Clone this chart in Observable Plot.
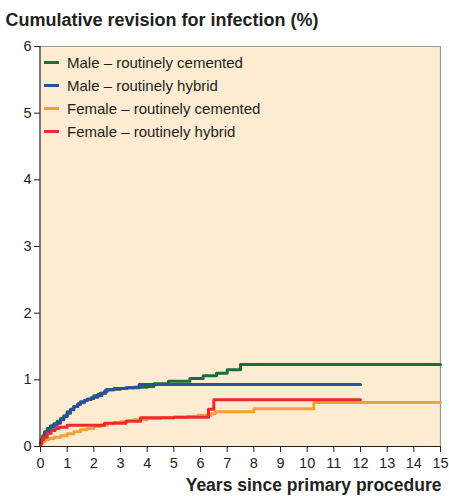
<!DOCTYPE html>
<html>
<head>
<meta charset="utf-8">
<script src="https://cdn.jsdelivr.net/npm/d3@7"></script>
<script src="https://cdn.jsdelivr.net/npm/@observablehq/plot@0.6"></script>
<style>
  html, body { margin: 0; padding: 0; background: #fff; }
  #wrap { position: relative; width: 449px; height: 496px; font-family: "Liberation Sans", Arial, sans-serif; color: #231f20; }
  #legend { position: absolute; left: 44px; top: 50.5px; font-size: 15px; }
  .row { display: flex; align-items: center; height: 23px; }
  .sw { width: 15px; height: 3px; margin-right: 8px; }
</style>
</head>
<body>
<div id="wrap"></div>
<script>
const years = d3.range(0, 16);
const yTicks = d3.range(0, 7);

const seriesNames = [
  "Male – routinely cemented",
  "Male – routinely hybrid",
  "Female – routinely cemented",
  "Female – routinely hybrid"
];
const seriesColors = ["#17703a", "#2c4fa6", "#f7a035", "#ee2b2b"];

const maleCementedT = [0,0.02,0.08,0.15,0.25,0.375,0.5,0.625,0.75,0.875,1,1.125,1.25,1.4,1.5,1.65,1.75,1.9,2,2.15,2.25,2.4,2.5,2.75,3,3.25,3.5,3.75,4,4.25,4.8,5.6,6.1,6.6,7.0,7.5,15];
const maleCementedV = [0.03,0.1,0.16,0.22,0.27,0.31,0.34,0.38,0.42,0.46,0.52,0.56,0.6,0.64,0.67,0.69,0.71,0.73,0.76,0.78,0.8,0.83,0.85,0.86,0.87,0.88,0.89,0.89,0.9,0.94,0.98,1.02,1.06,1.1,1.15,1.23,1.23];

const maleHybridT = [0,0.02,0.08,0.15,0.25,0.375,0.5,0.625,0.75,0.875,1,1.125,1.25,1.4,1.5,1.65,1.75,1.9,2,2.15,2.3,2.45,2.75,3.2,3.7,12];
const maleHybridV = [0.02,0.07,0.13,0.18,0.24,0.29,0.32,0.35,0.4,0.45,0.5,0.55,0.6,0.63,0.66,0.69,0.71,0.72,0.74,0.76,0.8,0.85,0.87,0.88,0.93,0.93];

const femaleCementedT = [0,0.05,0.15,0.3,0.5,0.75,1,1.25,1.5,1.75,2,2.25,2.5,2.75,3,3.25,3.5,4,4.5,5,5.5,5.9,6.4,6.55,8,10.25,15];
const femaleCementedV = [0.03,0.07,0.1,0.12,0.14,0.16,0.19,0.22,0.25,0.27,0.3,0.32,0.34,0.36,0.37,0.39,0.4,0.42,0.43,0.44,0.45,0.47,0.49,0.52,0.565,0.66,0.66];

const femaleHybridT = [0,0.05,0.12,0.25,0.4,0.55,0.7,1,2.4,3.2,3.75,5,6.3,6.5,12];
const femaleHybridV = [0.04,0.1,0.14,0.2,0.24,0.27,0.29,0.32,0.35,0.38,0.43,0.44,0.56,0.7,0.7];

const allT = [maleCementedT, maleHybridT, femaleCementedT, femaleHybridT];
const allV = [maleCementedV, maleHybridV, femaleCementedV, femaleHybridV];
const data = seriesNames.flatMap((name, i) => allT[i].map((t, j) => ({series: name, t, v: allV[i][j]})));

const chart = Plot.plot({
  width: 449,
  height: 496,
  marginLeft: 40,
  marginRight: 9,
  marginTop: 46,
  marginBottom: 50,
  style: {fontFamily: "Liberation Sans, Arial, sans-serif", fontSize: "14px", color: "#231f20", background: "#fff"},
  x: {domain: [0, 15], label: null},
  y: {domain: [0, 6], label: null},
  color: {domain: seriesNames, range: seriesColors},
  marks: [
    Plot.frame({fill: "#fdecd2", stroke: null}),
    Plot.ruleY([6], {stroke: "#9a9a9a", strokeWidth: 1.2}),
    Plot.ruleX([15], {stroke: "#9a9a9a", strokeWidth: 1.2}),
    ...seriesNames.map(name => Plot.line(data.filter(d => d.series === name), {
      x: "t", y: "v", stroke: "series", strokeWidth: 3, curve: "step-after"
    })),
    Plot.ruleX([0], {stroke: "#231f20", strokeWidth: 1.2, dx: -0.5}),
    Plot.ruleY([0], {stroke: "#231f20", strokeWidth: 1.2}),
    Plot.axisX({ticks: years, tickSize: 6, tickPadding: 5, tickFormat: d => d, fontSize: 14.5, stroke: "#231f20", label: null}),
    Plot.axisY({ticks: yTicks, tickSize: 6, tickPadding: 3, tickFormat: d => d, fontSize: 14.5, stroke: "#231f20", label: null}),
    Plot.text(["Cumulative revision for infection (%)"], {frameAnchor: "top-left", dx: -35, dy: -26, textAnchor: "start", lineAnchor: "middle", fontSize: 18, fontWeight: "bold", fill: "#231f20"}),
    Plot.text(["Years since primary procedure"], {frameAnchor: "bottom-right", dy: 39, dx: 1, textAnchor: "end", lineAnchor: "middle", fontSize: 17.5, fontWeight: "bold", fill: "#231f20"})
  ]
});

const wrap = document.getElementById("wrap");
wrap.appendChild(chart);
const legend = document.createElement("div");
legend.id = "legend";
seriesNames.forEach((name, i) => {
  const row = document.createElement("div");
  row.className = "row";
  const sw = document.createElement("div");
  sw.className = "sw";
  sw.style.background = seriesColors[i];
  const lab = document.createElement("span");
  lab.textContent = name;
  row.appendChild(sw);
  row.appendChild(lab);
  legend.appendChild(row);
});
wrap.appendChild(legend);
</script>
</body>
</html>
